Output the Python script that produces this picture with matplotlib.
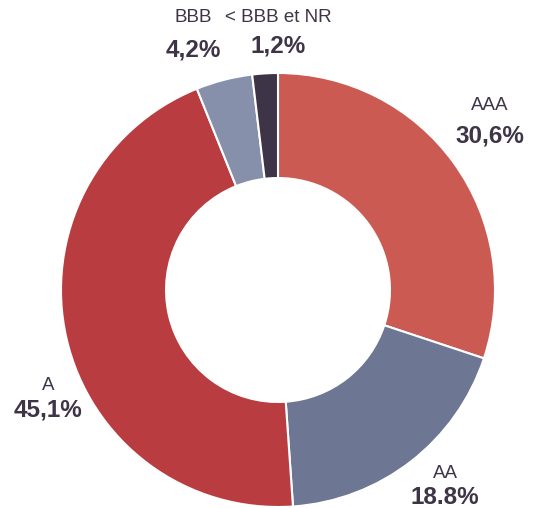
import matplotlib
matplotlib.use("Agg")
import matplotlib.pyplot as plt

categories = ["AAA", "AA", "A", "BBB", "< BBB et NR"]
# wedge sizes as drawn in the reference (angles)
values = [30.1, 18.8, 45.0, 4.2, 1.9]
value_labels = ["30,6%", "18.8%", "45,1%", "4,2%", "1,2%"]
colors = ["#CB5A52", "#6D7793", "#B93C40", "#8690AB", "#3E3448"]

W, H = 536, 508
fig = plt.figure(figsize=(W / 100, H / 100), dpi=100)
cx, cy, R = 278, 290, 217
ax = fig.add_axes([(cx - R) / W, (H - cy - R) / H, 2 * R / W, 2 * R / H])
ax.pie(values, colors=colors, startangle=90, counterclock=False,
       radius=1, wedgeprops=dict(width=0.484, edgecolor="white", linewidth=1.5))
ax.set_xlim(-1, 1)
ax.set_ylim(-1, 1)
ax.set_aspect("equal")
ax.axis("off")

txt = "#3E3448"
name_font = ["Liberation Sans", "DejaVu Sans"]
val_font = ["Liberation Sans", "DejaVu Sans"]
pos = {
    "AAA": ((490, 106), (490, 136)),
    "AA": ((445, 473), (445, 497)),
    "A": ((48, 385), (48, 410)),
    "BBB": ((193, 18), (193, 50)),
    "< BBB et NR": ((278, 18), (278, 46)),
}
for cat, vl in zip(categories, value_labels):
    (nx, ny), (vx, vy) = pos[cat]
    fig.text(nx / W, 1 - ny / H, cat, ha="center", va="center",
             fontsize=13.5, color=txt, family=name_font)
    fig.text(vx / W, 1 - vy / H, vl, ha="center", va="center",
             fontsize=17.5, fontweight="bold", color=txt, family=val_font)

fig.savefig("out.png", dpi=100)
